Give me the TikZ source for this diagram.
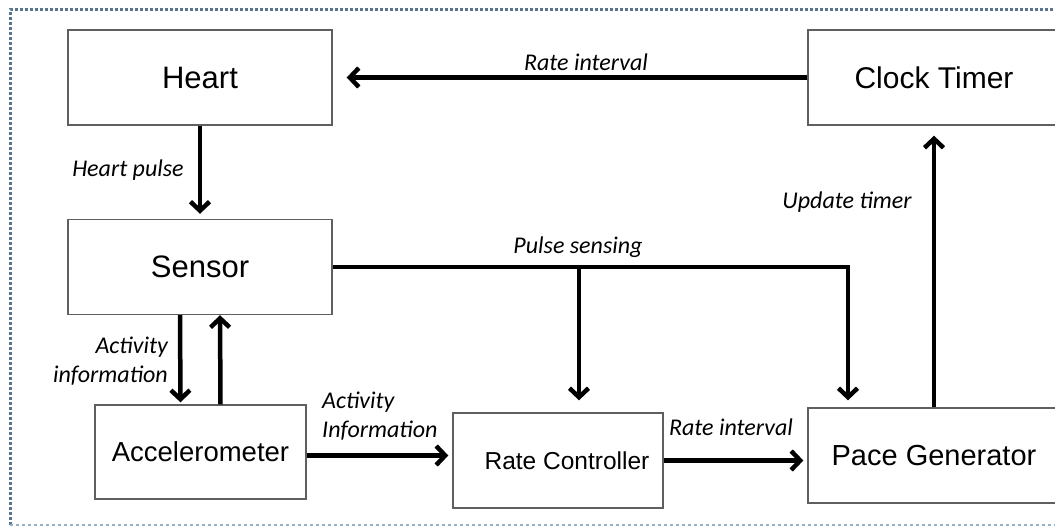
\documentclass[tikz,border=0pt]{standalone}
\usepackage{fontspec}
\setmainfont{Liberation Sans}
\newfontfamily\calibri{Carlito}
\usetikzlibrary{arrows.meta}
\definecolor{framegray}{RGB}{90,115,142}
\definecolor{framelight}{RGB}{150,178,200}
\definecolor{boxgray}{RGB}{95,95,95}

\begin{document}
\begin{tikzpicture}[x=1pt,y=-1pt]
    \useasboundingbox (0,0) rectangle (1055,527);
    \clip (0,0) rectangle (1055,527);
    \tikzstyle{every node}=[inner sep=0pt, text=black]
    \tikzstyle{block}=[rectangle, draw=boxgray, line width=1.4pt, fill=white, minimum height=95pt]
    \tikzstyle{lbl}=[font=\calibri\itshape\fontsize{24}{29}\selectfont]
    \tikzstyle{edge}=[black, line width=4.5pt, -{Straight Barb[length=9pt,width=19pt]}]

    % frame
    \draw[framegray, line width=3pt, dotted] (10,525) -- (10,10) -- (1070,10);
    \draw[framelight, line width=1.2pt, dashed] (10,525) -- (1070,525);

    \node[block, minimum width=264pt] (heart) at (200,77.5) {\fontsize{31}{36}\selectfont Heart};
    \node[block, minimum width=252pt] (clock) at (934,77.5) {\fontsize{30}{36}\selectfont Clock Timer};
    \node[block, minimum width=264pt] (sensor) at (200,267) {\fontsize{31}{36}\selectfont Sensor};
    \node[block, minimum width=211pt, minimum height=94pt] (accel) at (200.5,452) {\fontsize{27.5}{33}\selectfont Accelerometer};
    \node[block, minimum width=210pt] (rate) at (558,460.5) {\fontsize{24.5}{30}\selectfont\hspace*{18pt}Rate Controller};
    \node[block, minimum width=252pt] (pace) at (934,455.5) {\fontsize{29}{35}\selectfont Pace Generator};

    \coordinate (ps) at (848,267);
    \coordinate (rc) at (579,267);

    \draw[edge, shorten >=14pt] (clock.west) -- (heart.east);
    \draw[edge, shorten >=5pt] (heart.south) -- (sensor.north);
    \draw[edge, shorten >=2pt] ([xshift=-20pt]sensor.south) -- ([xshift=-20pt]accel.north);
    \draw[edge] ([xshift=20pt]accel.north) -- ([xshift=20pt]sensor.south);
    \draw[edge, shorten >=7pt] (sensor.east) -- (ps) -- (ps |- pace.north);
    \draw[edge, shorten >=12pt] (rc) -- (rc |- rate.north);
    \draw[edge, shorten >=4pt] ([yshift=-3.5pt]accel.east) -- ([yshift=-3.5pt]accel.east -| rate.west);
    \draw[edge, shorten >=4pt] (rate.east) -- (rate.east -| pace.west);
    \draw[edge, shorten >=10pt] (pace.north) -- (clock.south);

    \node[lbl] (l1) at (586,62) {Rate interval};
    \node[lbl] (l2) at (128,170) {Heart pulse};
    \node[lbl] (l3) at (578,247) {Pulse sensing};
    \node[lbl] (l4) at (847,202) {Update timer};
    \node[lbl, align=right, anchor=east] (l5) at (168,361) {Activity\\information};
    \node[lbl, align=left, anchor=west] (l6) at (322,416) {Activity\\Information};
    \node[lbl] (l7) at (731,427) {Rate interval};
\end{tikzpicture}
\end{document}
